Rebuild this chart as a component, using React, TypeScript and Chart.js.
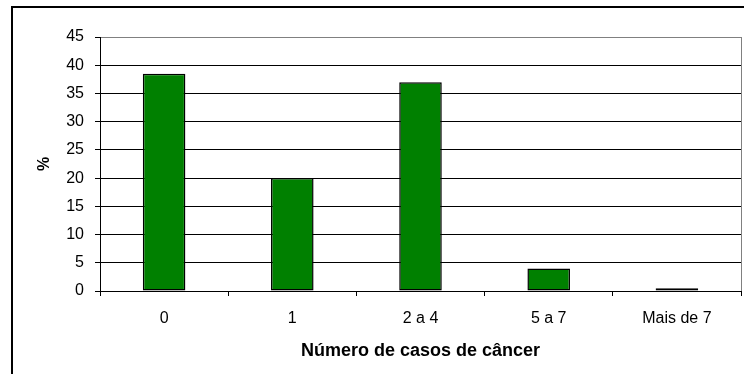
import React, { useEffect, useRef } from "react";
import { Chart, registerables } from "chart.js";

Chart.register(...registerables);

// Distribution of respondents by number of cancer cases (%)
const categories = ["0", "1", "2 a 4", "5 a 7", "Mais de 7"];
const percentages = [38.5, 20, 37, 4, 0.5];
const yTicks = [0, 5, 10, 15, 20, 25, 30, 35, 40, 45];

const FONT = "'Liberation Sans', Arial, sans-serif";

// Outer frame around the chart plus the grey right edge of the plot area
const framePlugin = {
  id: "frame",
  beforeDraw(chart: any) {
    const ctx = chart.ctx;
    ctx.save();
    ctx.fillStyle = "#ffffff";
    ctx.fillRect(0, 0, chart.width, chart.height);
    ctx.strokeStyle = "#000000";
    ctx.lineWidth = 2;
    ctx.strokeRect(12, 7, chart.width + 50, chart.height + 50);
    ctx.restore();
  },
  afterDraw(chart: any) {
    const { ctx, chartArea } = chart;
    ctx.save();
    ctx.strokeStyle = "#808080";
    ctx.lineWidth = 1;
    ctx.beginPath();
    ctx.moveTo(chartArea.right + 0.5, chartArea.top);
    ctx.lineTo(chartArea.right + 0.5, chartArea.bottom);
    ctx.stroke();
    ctx.restore();
  },
};

export default function App() {
  const canvasRef = useRef<HTMLCanvasElement | null>(null);

  useEffect(() => {
    if (!canvasRef.current) return;
    const chart = new Chart(canvasRef.current, {
      type: "bar",
      data: {
        labels: categories,
        datasets: [
          {
            data: percentages,
            backgroundColor: "#008000",
            borderColor: "#000000",
            borderWidth: 1.5,
            borderSkipped: false,
            categoryPercentage: 1,
            barPercentage: 0.332,
          },
        ],
      },
      options: {
        animation: false,
        responsive: true,
        maintainAspectRatio: false,
        layout: { padding: { left: 0, top: 37, right: 3, bottom: 0 } },
        plugins: {
          legend: { display: false },
          tooltip: { enabled: false },
        },
        scales: {
          x: {
            afterFit(scale: any) {
              scale.height = 83;
            },
            grid: {
              offset: true,
              drawOnChartArea: false,
              drawTicks: true,
              tickLength: 5,
              color: "#000000",
            },
            border: { display: true, color: "#000000", width: 1 },
            ticks: {
              color: "#000000",
              padding: 13,
              font: { family: FONT, size: 16 },
            },
            title: {
              display: true,
              text: "Número de casos de câncer",
              color: "#000000",
              font: { family: FONT, size: 18, weight: "bold" },
              padding: { top: 0, bottom: 12 },
            },
          },
          y: {
            min: 0,
            max: 45,
            afterFit(scale: any) {
              scale.width = 100;
            },
            afterBuildTicks(scale: any) {
              scale.ticks = yTicks.map((v) => ({ value: v }));
            },
            grid: {
              color: (c: any) => (c.tick && c.tick.value === 45 ? "#808080" : "#000000"),
              tickColor: "#000000",
              tickLength: 5,
              lineWidth: 1,
            },
            border: { display: true, color: "#000000", width: 1 },
            ticks: {
              color: "#000000",
              padding: 11,
              font: { family: FONT, size: 16 },
            },
            title: {
              display: true,
              text: "%",
              color: "#000000",
              font: { family: FONT, size: 16, weight: "bold" },
              padding: { top: 35, bottom: 0 },
            },
          },
        },
      },
      plugins: [framePlugin],
    });
    return () => chart.destroy();
  }, []);

  return (
    <div style={{ position: "fixed", left: 0, top: 0, width: 744, height: 374 }}>
      <canvas ref={canvasRef} />
    </div>
  );
}
